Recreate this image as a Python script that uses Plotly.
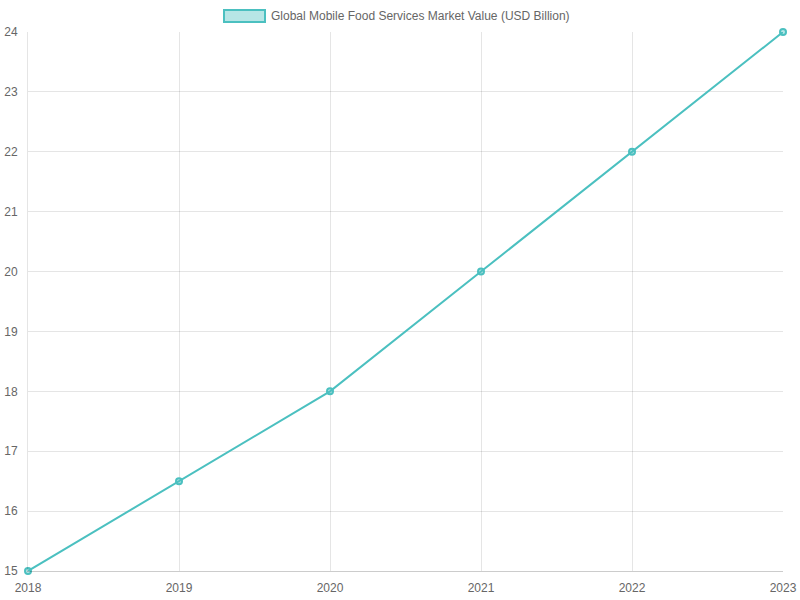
import plotly.graph_objects as go

# donnees
years = [2018, 2019, 2020, 2021, 2022, 2023]
market_value = [15, 16.5, 18, 20, 22, 24]
series_name = "Global Mobile Food Services Market Value (USD Billion)"

teal = "rgb(75,192,192)"
teal_fill = "rgba(75,192,192,0.4)"

fig = go.Figure()

fig.add_trace(go.Scatter(
    x=years,
    y=market_value,
    mode="lines+markers",
    name=series_name,
    line=dict(color=teal, width=2),
    marker=dict(size=6, color=teal_fill, line=dict(color=teal, width=2)),
    cliponaxis=False,
    showlegend=False))

# legende facon chart.js : carre + texte
fig.add_shape(type="rect", xref="paper", yref="paper",
              x0=(224 - 28) / 755, x1=(265 - 28) / 755,
              y0=(571 - 22) / 539, y1=(571 - 10) / 539,
              line=dict(color=teal, width=2), fillcolor=teal_fill)
fig.add_annotation(xref="paper", yref="paper",
                   x=(269 - 28) / 755, y=(571 - 16) / 539,
                   xanchor="left", yanchor="middle",
                   text=series_name, showarrow=False,
                   font=dict(size=12, color="#666"))

fig.update_xaxes(range=[2018, 2023], tickmode="array", tickvals=years,
                 ticktext=[str(y) for y in years], automargin=False,
                 showgrid=True, gridcolor="rgba(0,0,0,0.1)",
                 showline=True, linecolor="rgba(0,0,0,0.2)", linewidth=1,
                 zeroline=False, ticks="", ticklabelstandoff=6,
                 tickfont=dict(size=12, color="#666"))
fig.update_yaxes(range=[15, 24], dtick=1, automargin=False,
                 showgrid=True, gridcolor="rgba(0,0,0,0.1)",
                 showline=True, linecolor="rgba(0,0,0,0.1)", linewidth=1,
                 zeroline=False, ticks="", ticklabelstandoff=7,
                 tickfont=dict(size=12, color="#666"))

fig.update_layout(
    width=800, height=600,
    margin=dict(l=28, r=17, t=32, b=29),
    plot_bgcolor="white", paper_bgcolor="white",
    font=dict(family="Liberation Sans, Arial, sans-serif", size=12, color="#666"),
    showlegend=False)

# on retire la marge de la page pour que la figure occupe toute la fenetre
fig.write_html("out.html", config={"displayModeBar": False},
               post_script="document.body.style.margin='0';")
